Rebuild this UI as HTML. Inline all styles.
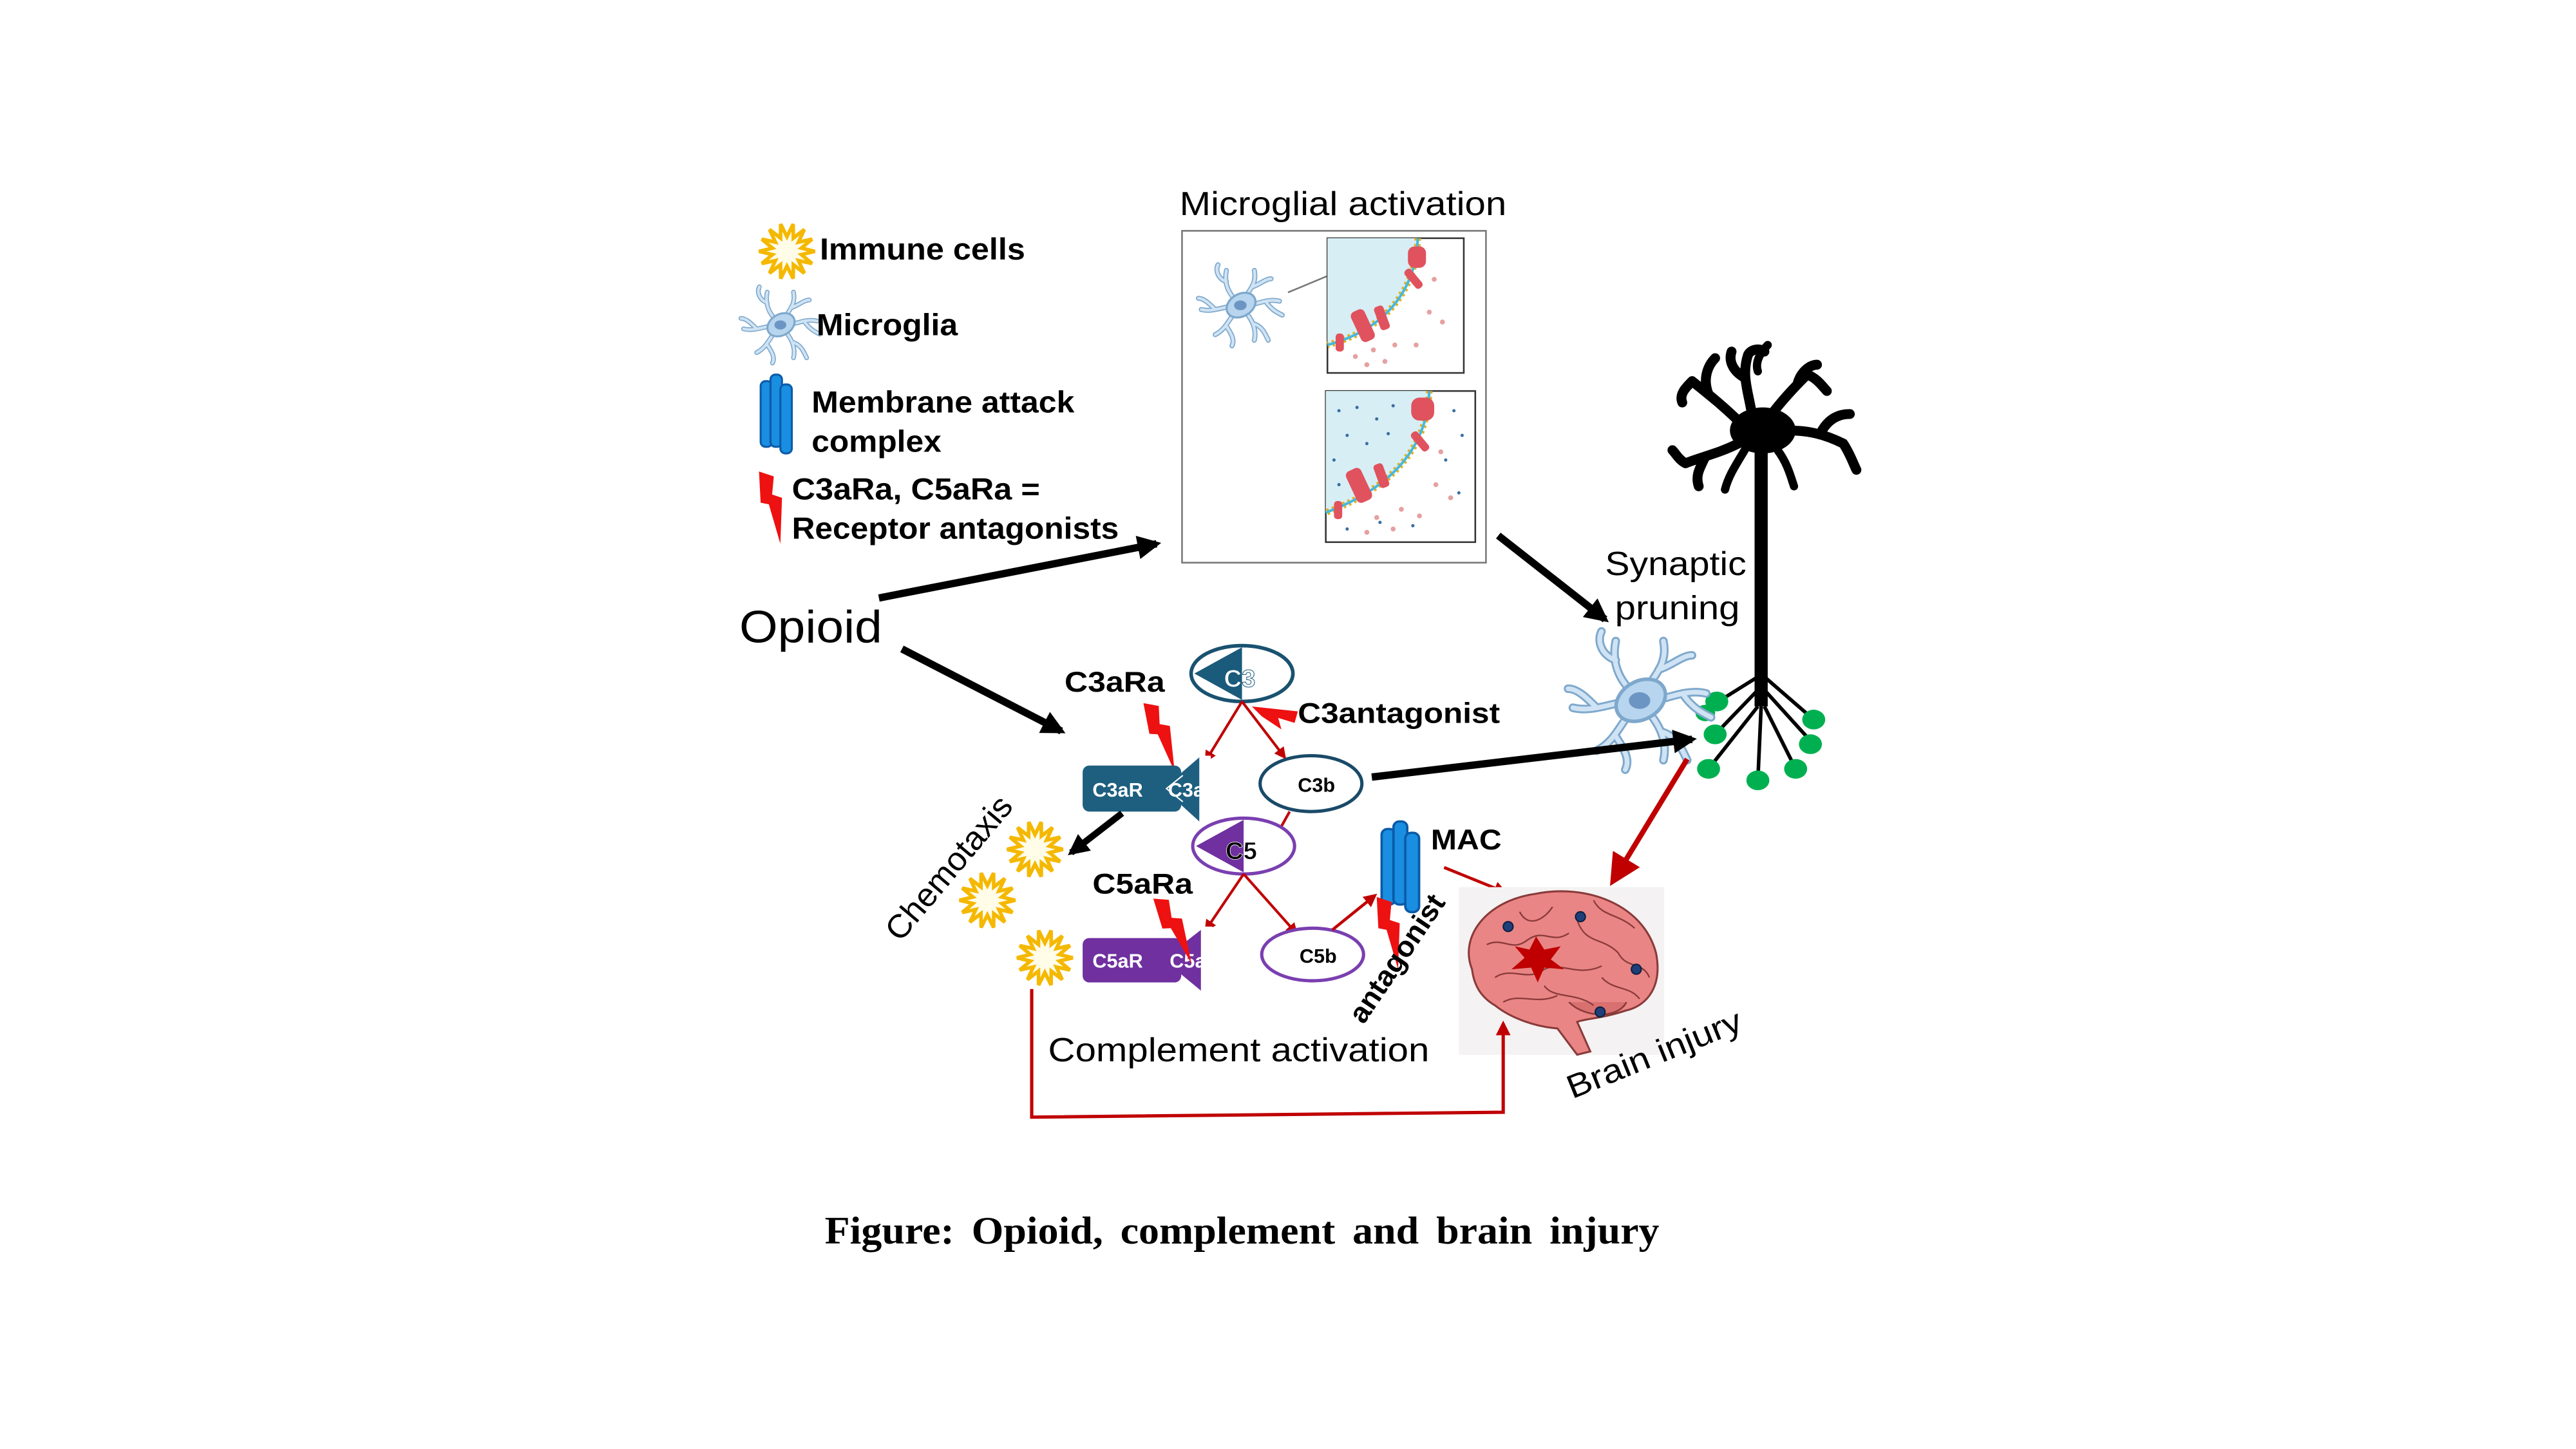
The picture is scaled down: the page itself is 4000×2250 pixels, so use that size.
<!DOCTYPE html>
<html><head><meta charset="utf-8"><style>
html,body{margin:0;padding:0;background:#fff;}
svg{display:block;}
text{font-family:"Liberation Sans",Arial,sans-serif;}
</style></head><body>
<svg width="4000" height="2250" viewBox="0 0 1568 882" xmlns="http://www.w3.org/2000/svg">
<defs>
<polygon id="star" points="17,0 8.8,2 15.3,7.4 7,5.6 10.6,13.3 3.9,8.1 3.8,16.6 0,9 -3.8,16.6 -3.9,8.1 -10.6,13.3 -7,5.6 -15.3,7.4 -8.8,2 -17,0 -8.8,-2 -15.3,-7.4 -7,-5.6 -10.6,-13.3 -3.9,-8.1 -3.8,-16.6 0,-9 3.8,-16.6 3.9,-8.1 10.6,-13.3 7,-5.6 15.3,-7.4 8.8,-2" fill="#fffce8" stroke="#f5b800" stroke-width="2.2" stroke-linejoin="miter"/>
<g id="mg">
 <g fill="none" stroke="#7ea8cc" stroke-width="3.6" stroke-linecap="round">
  <path d="M0,0 C-8,-6 -12,-14 -10,-24 M-10,-16 C-16,-18 -18,-24 -16,-28"/>
  <path d="M2,-2 C6,-10 12,-14 10,-24 M8,-12 C14,-14 18,-18 22,-18"/>
  <path d="M3,2 C12,0 20,-4 28,-2 M18,-2 C22,4 26,6 30,8"/>
  <path d="M2,4 C8,10 12,18 10,26 M9,14 C16,16 18,22 20,26"/>
  <path d="M-2,4 C-8,10 -10,18 -18,22 M-10,16 C-6,22 -4,26 -6,30"/>
  <path d="M-3,1 C-12,2 -20,6 -28,4 M-18,4 C-22,0 -26,-4 -30,-4"/>
 </g>
 <g fill="none" stroke="#cfe3f4" stroke-width="2" stroke-linecap="round">
  <path d="M0,0 C-8,-6 -12,-14 -10,-24 M-10,-16 C-16,-18 -18,-24 -16,-28"/>
  <path d="M2,-2 C6,-10 12,-14 10,-24 M8,-12 C14,-14 18,-18 22,-18"/>
  <path d="M3,2 C12,0 20,-4 28,-2 M18,-2 C22,4 26,6 30,8"/>
  <path d="M2,4 C8,10 12,18 10,26 M9,14 C16,16 18,22 20,26"/>
  <path d="M-2,4 C-8,10 -10,18 -18,22 M-10,16 C-6,22 -4,26 -6,30"/>
  <path d="M-3,1 C-12,2 -20,6 -28,4 M-18,4 C-22,0 -26,-4 -30,-4"/>
 </g>
 <ellipse cx="0" cy="1" rx="11" ry="8" fill="#b7d5ee" stroke="#7ea8cc" stroke-width="1.5" transform="rotate(-30)"/>
 <ellipse cx="0" cy="1" rx="4.5" ry="3.5" fill="#6d95c4"/>
</g>
<polygon id="bolt" points="0,0 9,3 8,14 14,16 13,44 6,20 1,19" fill="#ee1111"/>
<g id="mac">
 <rect x="0" y="4" width="7" height="40" rx="3" fill="#1a8ee0" stroke="#0a5aa8" stroke-width="1.2"/>
 <rect x="6" y="0" width="7" height="44" rx="3" fill="#1a8ee0" stroke="#0a5aa8" stroke-width="1.2"/>
 <rect x="12" y="6" width="7" height="42" rx="3" fill="#1a8ee0" stroke="#0a5aa8" stroke-width="1.2"/>
</g>
<marker id="ah" viewBox="0 0 10 10" refX="8" refY="5" markerWidth="3.2" markerHeight="3.2" orient="auto"><path d="M0,0 L10,5 L0,10 z" fill="#000"/></marker>
<marker id="rh" viewBox="0 0 10 10" refX="8" refY="5" markerWidth="6" markerHeight="6" orient="auto"><path d="M0,0 L10,5 L0,10 z" fill="#c00000"/></marker>
<marker id="rh2" viewBox="0 0 10 10" refX="8" refY="5" markerWidth="4.5" markerHeight="4.5" orient="auto"><path d="M0,0 L10,5 L0,10 z" fill="#c00000"/></marker>
</defs>

<!-- Legend -->
<use href="#star" x="479" y="153"/>
<text x="499" y="158" font-size="18.5" font-weight="bold" textLength="125" lengthAdjust="spacingAndGlyphs">Immune cells</text>
<g transform="translate(475,197) scale(0.8)"><use href="#mg"/></g>
<text x="497" y="204" font-size="18.5" font-weight="bold" textLength="86" lengthAdjust="spacingAndGlyphs">Microglia</text>
<g transform="translate(463,228) scale(1,1)"><use href="#mac"/></g>
<text x="494" y="251" font-size="18.5" font-weight="bold" textLength="160" lengthAdjust="spacingAndGlyphs">Membrane attack</text>
<text x="494" y="275" font-size="18.5" font-weight="bold" textLength="79" lengthAdjust="spacingAndGlyphs">complex</text>
<use href="#bolt" x="462" y="287"/>
<text x="482" y="304" font-size="18.5" font-weight="bold" textLength="151" lengthAdjust="spacingAndGlyphs">C3aRa, C5aRa =</text>
<text x="482" y="328" font-size="18.5" font-weight="bold" textLength="199" lengthAdjust="spacingAndGlyphs">Receptor antagonists</text>

<!-- Microglial activation -->
<text x="718" y="131" font-size="20.5" textLength="199" lengthAdjust="spacingAndGlyphs">Microglial activation</text>
<rect x="719.5" y="140.5" width="185" height="202" fill="#fff" stroke="#777" stroke-width="1"/>
<g transform="translate(755,185) scale(0.85)"><use href="#mg"/></g>
<line x1="784" y1="178" x2="808" y2="168" stroke="#777" stroke-width="1"/>
<g>
 <rect x="808" y="145" width="83" height="82" fill="#fff" stroke="#333" stroke-width="1"/>
 <path d="M808,145 L863,145 C862,175 845,200 808,210 Z" fill="#d7eef5"/>
 <path d="M863,145 C862,175 845,200 808,210" fill="none" stroke="#e5b020" stroke-width="4" stroke-dasharray="1.5,2"/>
 <path d="M863,145 C862,175 845,200 808,210" fill="none" stroke="#49b9d8" stroke-width="1.6"/>
 <rect x="857" y="150" width="11" height="13" rx="4" fill="#e0525e"/>
 <rect x="825" y="188" width="9" height="20" rx="3" fill="#e0525e" transform="rotate(-25 830 198)"/>
 <rect x="838" y="186" width="6" height="15" rx="2" fill="#e0525e" transform="rotate(-20 841 193)"/>
 <rect x="858" y="163" width="5" height="14" rx="2" fill="#e0525e" transform="rotate(-40 860 170)"/>
 <rect x="813" y="203" width="5" height="11" rx="2" fill="#e0525e"/>
 <g fill="#e6a0a0"><circle cx="873" cy="170" r="1.5"/><circle cx="870" cy="190" r="1.5"/><circle cx="878" cy="196" r="1.5"/><circle cx="849" cy="210" r="1.5"/><circle cx="836" cy="213" r="1.5"/><circle cx="832" cy="222" r="1.5"/><circle cx="843" cy="220" r="1.5"/><circle cx="862" cy="210" r="1.5"/><circle cx="825" cy="217" r="1.5"/></g>
</g>
<g>
 <rect x="807" y="238" width="91" height="92" fill="#fff" stroke="#333" stroke-width="1"/>
 <path d="M807,238 L870,238 C869,270 850,296 807,312 Z" fill="#d7eef5"/>
 <path d="M870,238 C869,270 850,296 807,312" fill="none" stroke="#e5b020" stroke-width="4" stroke-dasharray="1.5,2"/>
 <path d="M870,238 C869,270 850,296 807,312" fill="none" stroke="#49b9d8" stroke-width="1.6"/>
 <rect x="859" y="242" width="14" height="14" rx="5" fill="#e0525e"/>
 <rect x="822" y="285" width="10" height="21" rx="3" fill="#e0525e" transform="rotate(-25 827 295)"/>
 <rect x="838" y="282" width="6" height="15" rx="2" fill="#e0525e" transform="rotate(-20 841 290)"/>
 <rect x="862" y="262" width="5" height="14" rx="2" fill="#e0525e" transform="rotate(-40 864 269)"/>
 <rect x="812" y="305" width="5" height="11" rx="2" fill="#e0525e"/>
 <g fill="#3a6ea0"><circle cx="815" cy="250" r="1"/><circle cx="826" cy="248" r="1"/><circle cx="838" cy="255" r="1"/><circle cx="848" cy="247" r="1"/><circle cx="820" cy="265" r="1"/><circle cx="832" cy="270" r="1"/><circle cx="845" cy="264" r="1"/><circle cx="812" cy="280" r="1"/><circle cx="885" cy="250" r="1"/><circle cx="890" cy="265" r="1"/><circle cx="880" cy="280" r="1"/><circle cx="888" cy="300" r="1"/><circle cx="820" cy="322" r="1"/><circle cx="840" cy="318" r="1"/><circle cx="860" cy="320" r="1"/><circle cx="815" cy="295" r="1"/></g>
 <g fill="#e6a0a0"><circle cx="877" cy="275" r="1.5"/><circle cx="874" cy="295" r="1.5"/><circle cx="883" cy="303" r="1.5"/><circle cx="853" cy="310" r="1.5"/><circle cx="838" cy="315" r="1.5"/><circle cx="832" cy="324" r="1.5"/><circle cx="848" cy="322" r="1.5"/><circle cx="864" cy="314" r="1.5"/></g>
</g>

<!-- Opioid -->
<text x="450" y="391" font-size="27.5" textLength="87" lengthAdjust="spacingAndGlyphs">Opioid</text>
<line x1="535" y1="364" x2="704" y2="331" stroke="#000" stroke-width="4.5" marker-end="url(#ah)"/>
<line x1="549" y1="395" x2="646" y2="445" stroke="#000" stroke-width="4.5" marker-end="url(#ah)"/>
<line x1="912" y1="326" x2="977" y2="377" stroke="#000" stroke-width="4.5" marker-end="url(#ah)"/>

<!-- Synaptic pruning -->
<text x="977" y="350" font-size="20.5" textLength="86" lengthAdjust="spacingAndGlyphs">Synaptic</text>
<text x="983" y="377" font-size="20.5" textLength="76" lengthAdjust="spacingAndGlyphs">pruning</text>

<!-- Neuron -->
<g fill="none" stroke="#000" stroke-linecap="round">
 <rect x="1068" y="270" width="8" height="160" fill="#000" stroke="none"/>
 <ellipse cx="1073" cy="262" rx="20" ry="14" fill="#000" stroke="none"/>
 <path d="M1060,258 C1050,248 1040,240 1030,232 M1040,240 C1036,230 1040,222 1044,218 M1030,232 C1026,236 1022,240 1024,245" stroke-width="6"/>
 <path d="M1066,250 C1064,238 1060,228 1064,216 M1062,230 C1055,226 1052,220 1054,214 M1064,216 C1066,212 1072,212 1074,214" stroke-width="6"/>
 <path d="M1080,250 C1088,240 1094,234 1100,228 M1094,234 C1096,226 1102,222 1106,222 M1100,228 C1106,230 1110,236 1112,238" stroke-width="6"/>
 <path d="M1088,262 C1100,262 1110,264 1122,270 M1108,264 C1112,256 1118,252 1126,252 M1122,270 C1126,276 1128,282 1130,286" stroke-width="6"/>
 <path d="M1058,270 C1046,276 1036,278 1026,282 M1038,278 C1034,286 1032,290 1034,296 M1026,282 C1022,280 1020,276 1018,274" stroke-width="6"/>
 <path d="M1062,274 C1056,284 1052,290 1050,298" stroke-width="5"/>
 <path d="M1082,274 C1088,282 1090,290 1092,296" stroke-width="5"/>
 <path d="M1070,226 C1068,220 1072,214 1076,210" stroke-width="5"/>
</g>
<g stroke="#000" stroke-width="2.2" fill="none">
 <line x1="1070" y1="412" x2="1046" y2="427"/>
 <line x1="1070" y1="420" x2="1044" y2="447"/>
 <line x1="1070" y1="430" x2="1040" y2="468"/>
 <line x1="1072" y1="430" x2="1070" y2="475"/>
 <line x1="1074" y1="430" x2="1093" y2="468"/>
 <line x1="1074" y1="420" x2="1103" y2="452"/>
 <line x1="1074" y1="412" x2="1104" y2="438"/>
</g>
<g fill="#00b050">
 <ellipse cx="1045" cy="427" rx="7" ry="6"/><ellipse cx="1038" cy="434" rx="6" ry="5"/><ellipse cx="1044" cy="447" rx="7" ry="6"/><ellipse cx="1040" cy="468" rx="7" ry="6"/><ellipse cx="1070" cy="475" rx="7" ry="6"/><ellipse cx="1093" cy="468" rx="7" ry="6"/><ellipse cx="1102" cy="453" rx="7" ry="6"/><ellipse cx="1104" cy="438" rx="7" ry="6"/>
</g>
<g transform="translate(998,425) scale(1.45)"><use href="#mg"/></g>

<line x1="835" y1="473" x2="1030" y2="450" stroke="#000" stroke-width="4.5" marker-end="url(#ah)"/>
<line x1="1027" y1="462" x2="982" y2="536" stroke="#c00000" stroke-width="3.2" marker-end="url(#rh)"/>

<!-- C3 -->
<ellipse cx="756" cy="410" rx="31" ry="17" fill="#fff" stroke="#1a5270" stroke-width="2.2"/>
<path d="M756,394 L727,410 L756,426 Z" fill="#1a5a7a"/>
<text x="745" y="418" font-size="15" font-weight="bold" fill="#fff" stroke="#1a5a7a" stroke-width="0.4">C3</text>
<text x="648" y="421" font-size="17.5" font-weight="bold" textLength="61" lengthAdjust="spacingAndGlyphs">C3aRa</text>
<text x="790" y="440" font-size="17.5" font-weight="bold" textLength="123" lengthAdjust="spacingAndGlyphs">C3antagonist</text>
<polygon points="762,430 790,433 788,440 778,437 780,444 768,436" fill="#ee1111"/>
<g transform="translate(696,428) rotate(-8)"><use href="#bolt"/></g>
<line x1="756" y1="427" x2="734" y2="463" stroke="#c00000" stroke-width="1.6" marker-end="url(#rh2)"/>
<line x1="756" y1="427" x2="782" y2="461" stroke="#c00000" stroke-width="1.6" marker-end="url(#rh2)"/>

<!-- C3aR -->
<rect x="659" y="466" width="60" height="28" rx="4" fill="#1e5f80"/>
<path d="M730,461 L730,500 L708,480 Z" fill="#1e5f80"/>
<path d="M720,472 L710,480 L720,488" fill="none" stroke="#fff" stroke-width="0.8"/>
<text x="665" y="485" font-size="12" font-weight="bold" fill="#fff">C3aR</text>
<text x="711" y="485" font-size="12" font-weight="bold" fill="#fff">C3a</text>
<rect x="731" y="460" width="6" height="42" fill="#fff"/>

<!-- C3b -->
<ellipse cx="798" cy="477" rx="31" ry="17" fill="#fff" stroke="#1a4a68" stroke-width="2"/>
<text x="790" y="482" font-size="12" font-weight="bold">C3b</text>
<line x1="785" y1="494" x2="780" y2="503" stroke="#c00000" stroke-width="1.6"/>

<!-- C5 -->
<ellipse cx="757" cy="515" rx="31" ry="17" fill="#fff" stroke="#7a3fb0" stroke-width="2"/>
<path d="M757,499 L728,515 L757,531 Z" fill="#7030a0"/>
<text x="746" y="523" font-size="15" font-weight="bold" fill="#000" stroke="#fff" stroke-width="0.3">C5</text>
<line x1="757" y1="532" x2="734" y2="566" stroke="#c00000" stroke-width="1.6" marker-end="url(#rh2)"/>
<line x1="757" y1="532" x2="789" y2="568" stroke="#c00000" stroke-width="1.6" marker-end="url(#rh2)"/>
<text x="665" y="544" font-size="17.5" font-weight="bold" textLength="61" lengthAdjust="spacingAndGlyphs">C5aRa</text>

<!-- C5aR -->
<rect x="659" y="571" width="60" height="27" rx="4" fill="#7030a0"/>
<path d="M731,566 L731,603 L708,584 Z" fill="#7030a0"/>
<text x="665" y="589" font-size="12" font-weight="bold" fill="#fff">C5aR</text>
<text x="712" y="589" font-size="12" font-weight="bold" fill="#fff">C5a</text>
<rect x="732" y="564" width="6" height="42" fill="#fff"/>
<g transform="translate(702,547) rotate(-14)"><use href="#bolt"/></g>

<!-- C5b -->
<ellipse cx="799" cy="581" rx="31" ry="16" fill="#fff" stroke="#7a3fb0" stroke-width="2"/>
<text x="791" y="586" font-size="12" font-weight="bold">C5b</text>
<line x1="811" y1="566" x2="837" y2="545" stroke="#c00000" stroke-width="1.8" marker-end="url(#rh2)"/>

<!-- MAC -->
<g transform="translate(841,500) scale(1.2,1.15)"><use href="#mac"/></g>
<text x="871" y="517" font-size="17.5" font-weight="bold" textLength="43" lengthAdjust="spacingAndGlyphs">MAC</text>
<use href="#bolt" x="838" y="546"/>
<text transform="translate(830,624) rotate(-56)" font-size="17.5" font-weight="bold" textLength="90" lengthAdjust="spacingAndGlyphs">antagonist</text>
<line x1="879" y1="528" x2="916" y2="543" stroke="#c00000" stroke-width="1.8" marker-end="url(#rh2)"/>

<!-- Brain -->
<rect x="888" y="540" width="125" height="102" fill="#f4f2f2"/>
<path d="M896,590 C888,570 905,548 935,544 C965,538 1000,550 1008,580 C1012,600 1003,612 990,615 C975,620 965,620 960,622 L968,640 L960,642 L948,626 C935,625 920,620 910,612 C900,606 897,598 896,590 Z" fill="#ea8585" stroke="#8a3a3a" stroke-width="1.2"/>
<path d="M955,610 C965,620 985,620 990,610" fill="#d97070" stroke="#8a3a3a" stroke-width="1"/>
<g fill="none" stroke="#8a3a3a" stroke-width="0.9">
 <path d="M905,575 C915,570 920,580 930,572 C940,565 945,575 955,568"/>
 <path d="M910,595 C920,588 930,598 940,590 C950,585 960,595 975,588"/>
 <path d="M960,560 C965,575 975,570 985,580 C990,590 1000,585 1004,595"/>
 <path d="M925,555 C930,565 940,560 945,552"/>
 <path d="M970,548 C975,558 985,556 995,565"/>
 <path d="M915,610 C925,604 935,612 948,606"/>
 <path d="M940,600 C945,608 960,604 970,612"/>
 <path d="M975,595 C982,603 992,600 998,608"/>
</g>
<polygon points="935,570 940,578 950,576 944,584 952,590 940,589 936,598 932,589 920,590 928,583 922,576 931,578" fill="#c00000"/>
<g fill="#1f3f7a" stroke="#0a2040" stroke-width="0.8"><circle cx="918" cy="564" r="3"/><circle cx="962" cy="558" r="3"/><circle cx="996" cy="590" r="3"/><circle cx="974" cy="616" r="3"/></g>
<text transform="translate(957,669) rotate(-22)" font-size="20" textLength="113" lengthAdjust="spacingAndGlyphs">Brain injury</text>

<!-- Chemotaxis -->
<text transform="translate(548,574) rotate(-50)" font-size="20" textLength="108" lengthAdjust="spacingAndGlyphs">Chemotaxis</text>
<line x1="683" y1="495" x2="652" y2="519" stroke="#000" stroke-width="4" marker-end="url(#ah)"/>
<use href="#star" x="630" y="517"/>
<use href="#star" x="601" y="548"/>
<use href="#star" x="636" y="583"/>

<text x="638" y="646" font-size="20.5" textLength="232" lengthAdjust="spacingAndGlyphs">Complement activation</text>

<path d="M628,602 L628,680 L915,677 L915,623" fill="none" stroke="#c00000" stroke-width="2" marker-end="url(#rh2)"/>

<text x="502" y="757" font-size="23.5" font-weight="bold" style="font-family:'Liberation Serif',serif;word-spacing:4px" textLength="508" lengthAdjust="spacingAndGlyphs">Figure: Opioid, complement and brain injury</text>
</svg>
</body></html>
